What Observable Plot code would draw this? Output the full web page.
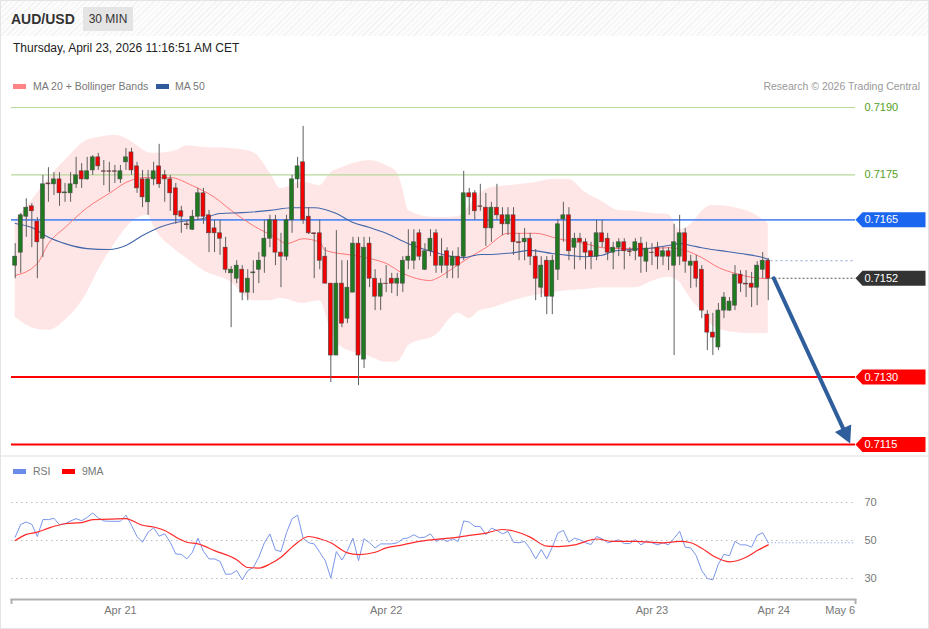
<!DOCTYPE html>
<html><head><meta charset="utf-8">
<script src="https://cdn.jsdelivr.net/npm/d3@7"></script>
<script src="https://cdn.jsdelivr.net/npm/@observablehq/plot@0.6"></script>
<style>
body{margin:0;background:#fff;font-family:"Liberation Sans",Arial,sans-serif;}
#wrap{position:relative;width:929px;height:629px;overflow:hidden;outline:1px solid #e4e4e4;outline-offset:-1px;background:#fff;}
#hdr{position:absolute;left:1px;top:1px;width:927px;height:35px;background:repeating-linear-gradient(135deg,#f2f2f2 0 1px,#fcfcfc 1px 4px);}
.abs{position:absolute;white-space:nowrap;}
#sym{left:11px;top:10px;font-weight:bold;font-size:14px;line-height:18px;color:#333;}
#tf{left:83px;top:7px;width:50px;height:24px;line-height:24px;text-align:center;font-size:12px;color:#333;background:#e4e4e4;}
#date{left:13px;top:41px;font-size:12px;line-height:14px;color:#222;}
.lg{font-size:10.5px;line-height:12px;color:#777;}
.sw{position:absolute;width:13px;height:5px;}
#sep{left:1px;top:455px;width:927px;height:2px;background:#efefef;}
#p1{position:absolute;left:0;top:95px;}
#p2{position:absolute;left:0;top:480px;}
</style></head>
<body>
<div id="wrap">
  <div id="hdr"></div>
  <div class="abs" id="sym">AUD/USD</div>
  <div class="abs" id="tf">30 MIN</div>
  <div class="abs" id="date">Thursday, April 23, 2026 11:16:51 AM CET</div>
  <div class="sw" style="left:13px;top:84px;background:#ff8585"></div>
  <div class="abs lg" style="left:33px;top:80px">MA 20 + Bollinger Bands</div>
  <div class="sw" style="left:156px;top:84px;background:#2f5a9b"></div>
  <div class="abs lg" style="left:175px;top:80px">MA 50</div>
  <div class="abs lg" style="right:9px;top:80px;color:#999">Research © 2026 Trading Central</div>
  <div class="abs" id="sep"></div>
  <div class="sw" style="left:13px;top:469px;background:#6a8ce8"></div>
  <div class="abs lg" style="left:33px;top:465px">RSI</div>
  <div class="sw" style="left:62px;top:469px;background:#ff0000"></div>
  <div class="abs lg" style="left:82px;top:465px">9MA</div>
  <div id="p1"></div>
  <div id="p2"></div>
</div>
<script>
// ---------- DATA ----------
const open = [.71548,.71577,.71657,.71680,.71646,.71608,.71731,.71729,.71740,.71709,
.71709,.71729,.71758,.71740,.71760,.71789,.71758,.71758,.71758,.71740,
.71778,.71800,.71769,.71740,.71689,.71740,.71769,.71749,.71740,.71720,
.71669,.71640,.71628,.71657,.71709,.71660,.71631,.71620,.71588,.71531,
.71519,.71539,.71488,.71531,.71539,.71568,.71608,.71649,.71577,.71568,
.71649,.71740,.71778,.71657,.71620,.71620,.71568,.71508,.71348,.71508,
.71430,.71488,.71597,.71339,.71597,.71519,.71479,.71508,.71519,.71508,
.71508,.71559,.71559,.71620,.71539,.71580,.71620,.71548,.71580,.71548,
.71568,.71568,.71709,.71709,.71680,.71677,.71631,.71677,.71660,.71640,
.71660,.71600,.71600,.71608,.71568,.71499,.71559,.71479,.71539,.71651,
.71660,.71588,.71608,.71600,.71580,.71568,.71620,.71608,.71577,.71588,
.71600,.71580,.71580,.71597,.71557,.71577,.71588,.71568,.71580,.71548,
.71568,.71620,.71548,.71557,.71539,.71439,.71399,.71366,.71448,.71448,
.71459,.71528,.71508,.71508,.71499,.71539,.71559];
const high = [.71597,.71664,.71697,.71686,.71655,.71749,.71766,.71755,.71755,.71731,
.71755,.71789,.71775,.71789,.71793,.71798,.71782,.71778,.71771,.71771,
.71809,.71809,.71778,.71760,.71760,.71778,.71818,.71760,.71749,.71731,
.71680,.71649,.71671,.71720,.71720,.71671,.71649,.71649,.71611,.71546,
.71559,.71548,.71539,.71559,.71577,.71649,.71660,.71660,.71620,.71660,
.71749,.71789,.71858,.71677,.71620,.71649,.71588,.71508,.71626,.71559,
.71559,.71611,.71611,.71611,.71611,.71539,.71519,.71548,.71531,.71531,
.71568,.71628,.71628,.71628,.71597,.71628,.71628,.71608,.71588,.71580,
.71588,.71758,.71720,.71715,.71729,.71709,.71689,.71729,.71677,.71677,
.71677,.71620,.71631,.71620,.71584,.71568,.71568,.71571,.71651,.71689,
.71677,.71620,.71620,.71608,.71600,.71649,.71649,.71620,.71600,.71608,
.71608,.71588,.71608,.71611,.71600,.71597,.71600,.71588,.71588,.71640,
.71660,.71631,.71571,.71571,.71548,.71448,.71442,.71464,.71488,.71477,
.71548,.71537,.71537,.71533,.71557,.71577,.71564];
const low = [.71519,.71531,.71611,.71588,.71519,.71566,.71689,.71704,.71680,.71689,
.71689,.71720,.71720,.71738,.71749,.71760,.71726,.71711,.71731,.71731,
.71760,.71749,.71709,.71677,.71660,.71726,.71720,.71689,.71669,.71640,
.71620,.71628,.71626,.71649,.71640,.71577,.71577,.71571,.71531,.71410,
.71508,.71470,.71470,.71486,.71508,.71531,.71588,.71548,.71499,.71559,
.71620,.71720,.71640,.71617,.71519,.71539,.71508,.71288,.71348,.71410,
.71419,.71488,.71281,.71319,.71499,.71448,.71448,.71488,.71486,.71479,
.71488,.71539,.71539,.71559,.71537,.71568,.71531,.71531,.71519,.71519,
.71519,.71559,.71660,.71649,.71669,.71591,.71600,.71649,.71615,.71615,
.71571,.71559,.71559,.71548,.71470,.71477,.71439,.71439,.71515,.71600,
.71559,.71539,.71559,.71539,.71539,.71559,.71588,.71559,.71539,.71568,
.71539,.71568,.71559,.71531,.71533,.71548,.71539,.71548,.71537,.71348,
.71548,.71531,.71497,.71499,.71430,.71359,.71348,.71359,.71430,.71446,
.71448,.71488,.71477,.71455,.71459,.71519,.71470];
const close = [.71568,.71660,.71677,.71669,.71600,.71729,.71729,.71740,.71709,.71711,
.71729,.71749,.71740,.71758,.71789,.71769,.71757,.71757,.71757,.71758,
.71789,.71760,.71720,.71700,.71740,.71758,.71729,.71740,.71709,.71660,
.71657,.71638,.71657,.71709,.71657,.71620,.71620,.71608,.71539,.71539,
.71548,.71488,.71519,.71533,.71559,.71608,.71649,.71577,.71568,.71649,
.71740,.71769,.71649,.71620,.71618,.71559,.71508,.71348,.71508,.71419,
.71499,.71597,.71348,.71588,.71519,.71479,.71508,.71507,.71508,.71519,
.71559,.71568,.71600,.71568,.71580,.71608,.71548,.71568,.71548,.71568,
.71548,.71709,.71700,.71669,.71679,.71631,.71677,.71660,.71640,.71660,
.71600,.71598,.71608,.71568,.71519,.71548,.71479,.71559,.71640,.71660,
.71580,.71608,.71600,.71577,.71568,.71620,.71600,.71577,.71588,.71600,
.71580,.71578,.71600,.71568,.71586,.71576,.71568,.71580,.71568,.71600,
.71620,.71557,.71557,.71519,.71448,.71399,.71388,.71448,.71477,.71468,
.71528,.71508,.71506,.71499,.71548,.71559,.71519];

const bandIdx = [0,3,6,9,13,15,18,21,24,25,29,31,34,39,43,46,48,52,55,57,59,62,64,67,69,70,71,76,80,82,84,86,89,94,97,100,103,106,109,112,115,118,120,121,123,124,126,130,133,136];
const bandUpper = [.71649,.71693,.71742,.71782,.71827,.71833,.71838,.71824,.71800,.71798,.71804,.71815,.71811,.71809,.71800,.71755,.71720,.71735,.71726,.71755,.71766,.71778,.71782,.71771,.71755,.71720,.71671,.71655,.71657,.71680,.71709,.71722,.71726,.71733,.71740,.71740,.71711,.71691,.71671,.71669,.71664,.71662,.71628,.71631,.71653,.71669,.71682,.71677,.71666,.71642];
const bandLower = [.71433,.71410,.71404,.71426,.71488,.71537,.71597,.71644,.71660,.71635,.71582,.71564,.71537,.71511,.71470,.71470,.71475,.71464,.71470,.71404,.71366,.71353,.71346,.71333,.71333,.71348,.71370,.71393,.71442,.71430,.71448,.71453,.71466,.71482,.71488,.71493,.71495,.71499,.71499,.71499,.71513,.71522,.71511,.71493,.71459,.71448,.71413,.71399,.71397,.71397];

const ma20Idx = [0,4,6,9,13,17,20,23,28,32,36,39,43,47,49,52,55,56,61,64,67,70,75,76,79,82,85,89,94,98,103,106,110,114,118,121,124,127,130,133,136];
const ma20Val = [.71526,.71553,.71597,.71633,.71677,.71709,.71733,.71744,.71744,.71726,.71700,.71671,.71637,.71611,.71597,.71608,.71600,.71582,.71571,.71564,.71553,.71531,.71515,.71519,.71542,.71566,.71588,.71620,.71620,.71608,.71597,.71588,.71586,.71586,.71588,.71582,.71566,.71544,.71531,.71522,.71519];

const ma50Idx = [0,3,6,9,13,17,20,23,26,29,34,37,41,46,50,54,58,61,64,67,71,76,79,81,84,86,90,93,97,100,103,106,108,111,114,118,120,122,124,127,131,135,136];
const ma50Val = [.71642,.71633,.71611,.71597,.71586,.71584,.71593,.71615,.71633,.71644,.71653,.71664,.71666,.71671,.71677,.71677,.71664,.71644,.71633,.71620,.71597,.71577,.71568,.71566,.71573,.71573,.71577,.71582,.71575,.71571,.71568,.71571,.71580,.71584,.71586,.71593,.71597,.71593,.71588,.71582,.71575,.71566,.71562];
const ma50Projection = 0.71559;

const greenLevels = [0.7190, 0.7175];
const blueLevels = [0.7165];
const redLevels = [0.7130, 0.7115];
const lastPrice = 0.7152;
const tagValues = [0.7165, 0.7152, 0.7130, 0.7115];
const tagKinds = ["resistance", "last", "support", "support"];
const arrowFrom = [137, 0.7152];
const arrowTo = [150.8, 0.71152];

const rsi = [51.8,58.5,59.7,58.5,52.1,61.0,61.0,61.7,58.3,58.8,
60.3,61.5,60.4,62.2,64.5,61.9,60.3,60.1,60.1,60.1,
63.3,58.0,52.1,49.1,54.4,56.7,52.3,53.5,49.1,42.9,
42.7,40.3,43.8,51.2,44.3,40.3,40.3,39.0,32.3,32.3,
34.2,29.3,34.1,35.8,41.2,48.8,53.4,45.0,44.2,54.1,
61.5,63.3,51.2,48.8,48.2,43.8,39.4,30.2,44.2,39.7,
44.7,51.2,39.4,50.9,48.8,46.1,48.2,48.2,48.2,48.8,
50.9,51.4,53.0,51.4,51.8,53.5,49.5,50.9,49.5,50.9,
49.5,60.3,59.7,57.4,57.4,53.0,56.5,55.3,53.5,54.8,
49.1,48.8,49.5,45.6,40.3,45.2,40.3,46.5,53.9,55.3,
49.1,51.2,50.4,48.8,47.9,52.1,50.9,48.8,49.5,50.4,
48.4,48.4,50.5,47.7,49.5,48.8,47.7,48.8,47.7,51.2,
54.8,46.5,46.1,42.0,34.1,30.0,29.3,37.6,42.7,42.0,
49.6,47.7,47.7,46.5,52.7,54.1,48.8];
const ma9Idx = [0,2,4,6,9,12,14,17,20,21,23,25,27,29,31,33,36,40,42,44,46,48,50,53,55,57,60,62,65,67,70,73,77,79,82,85,88,90,93,96,98,101,105,108,112,117,120,122,124,126,129,132,134,136];
const ma9Val = [50,53.2,54.4,56.5,58.8,59.4,61,61.2,61.5,60.6,58,57.1,55.3,51.8,49.1,48.2,44.7,39.9,35.8,35.5,37.6,41.2,46.5,52.1,50.9,48.8,43.5,42.6,43.8,46.1,47.7,49.5,50.9,51.4,52.7,53.9,55.8,55,51.8,47,46.8,47.7,50.8,49.5,49.5,48.8,49.5,48.8,45.9,42,38.8,41.2,44.7,47.7];
const rsiLevels = [70, 50, 30];

const tickIdx = [19, 67, 115, 137, 149];
const tickLabels = ["Apr 21", "Apr 22", "Apr 23", "Apr 24", "May 6"];

// ---------- BUILD ----------
const FONT = "Liberation Sans, Arial, sans-serif";
const n = open.length;
const xMin = -0.67, xMax = 151.76;
const W = 929, H1 = 360, mT = 12, mB = 11, mL = 11, mR = 74;
const candles = open.map((o, i) => ({i, o, h: high[i], l: low[i], c: close[i]}));
const band = bandIdx.map((i, k) => ({i, up: bandUpper[k], lo: bandLower[k]}));
const ma20 = ma20Idx.map((i, k) => ({i, v: ma20Val[k]}));
const ma50 = ma50Idx.map((i, k) => ({i, v: ma50Val[k]}));
const tagColor = {resistance: "#1b66ee", last: "#333333", support: "#ff0000"};
const tags = tagValues.map((v, k) => ({v, kind: tagKinds[k]}));
const arrow = [{x1: arrowFrom[0], y1: arrowFrom[1], x2: arrowTo[0], y2: arrowTo[1]}];

const kx = (W - mL - mR) / (xMax - xMin);
const ky = (H1 - mT - mB) / (0.7190 - 0.7115);
const ang = -Math.atan2((arrowTo[0] - arrowFrom[0]) * kx, (arrowFrom[1] - arrowTo[1]) * ky) * 180 / Math.PI;

const tagSymbol = {draw(ctx) {ctx.moveTo(0, 0); ctx.lineTo(7, -7.5); ctx.lineTo(70, -7.5); ctx.lineTo(70, 7.5); ctx.lineTo(7, 7.5); ctx.closePath();}};
const headSymbol = {draw(ctx) {ctx.moveTo(0, 0); ctx.lineTo(-9, -17); ctx.lineTo(9, -17); ctx.closePath();}};

const p1 = Plot.plot({
  width: W, height: H1, marginTop: mT, marginBottom: mB, marginLeft: mL, marginRight: mR,
  x: {domain: [xMin, xMax], axis: null, label: null},
  y: {domain: [0.7115, 0.7190], axis: null, label: null},
  style: {background: "transparent", overflow: "visible", fontFamily: FONT},
  marks: [
    Plot.areaY(band, {x: "i", y1: "lo", y2: "up", fill: "#ff1a1a", fillOpacity: 0.11, curve: "monotone-x"}),
    Plot.ruleY(greenLevels, {stroke: "#b5d99a", strokeWidth: 1.2}),
    Plot.ruleY(blueLevels, {stroke: "#5a8df4", strokeWidth: 1.6}),
    Plot.ruleY(redLevels, {stroke: "#ff0000", strokeWidth: 2}),
    Plot.lineY(ma20, {x: "i", y: "v", stroke: "#ff7676", strokeWidth: 1, curve: "monotone-x"}),
    Plot.lineY(ma50, {x: "i", y: "v", stroke: "#4267aa", strokeWidth: 1.1, curve: "monotone-x"}),
    Plot.ruleY([ma50Projection], {x1: n - 0.5, x2: xMax, stroke: "#8ea5d6", strokeDasharray: "2,3"}),
    Plot.ruleY([lastPrice], {x1: n - 0.5, x2: xMax, stroke: "#555", strokeDasharray: "2,2"}),
    Plot.ruleX(candles, {x: "i", y1: "l", y2: "h", stroke: "#5e5e5e", strokeWidth: 1}),
    Plot.rect(candles, {x1: d => d.i - 0.36, x2: d => d.i + 0.36, y1: "o", y2: "c",
      fill: d => d.c > d.o ? "#1f7a1f" : "#f20000", stroke: "#4a4a4a", strokeWidth: 0.6}),
    Plot.arrow(arrow, {x1: "x1", y1: "y1", x2: "x2", y2: "y2", stroke: "#2f5e9c", strokeWidth: 4, headLength: 0, insetEnd: 13}),
    Plot.dot(arrow, {x: "x2", y: "y2", symbol: headSymbol, rotate: ang, fill: "#2f5e9c", stroke: "none"}),
    Plot.dot(tags, {x: () => xMax, y: "v", symbol: tagSymbol, fill: d => tagColor[d.kind], stroke: "none"}),
    Plot.text(tags, {x: () => xMax, y: "v", text: d => d.v.toFixed(4), dx: 9, textAnchor: "start", fill: "white", fontSize: 11, fontFamily: FONT}),
    Plot.text(greenLevels, {x: () => xMax, y: d => d, text: d => d.toFixed(4), dx: 9, textAnchor: "start", fill: "#52a01e", fontSize: 11, fontFamily: FONT})
  ]
});
document.getElementById("p1").appendChild(p1);

const rsiData = rsi.map((v, i) => ({i, v}));
const ma9 = ma9Idx.map((i, k) => ({i, v: ma9Val[k]}));
const p2 = Plot.plot({
  width: W, height: 140, marginTop: 22, marginBottom: 21, marginLeft: mL, marginRight: mR,
  x: {domain: [xMin, xMax], label: null},
  y: {domain: [30, 70], range: [98, 22], axis: null, label: null},
  style: {background: "transparent", overflow: "visible", fontFamily: FONT},
  marks: [
    Plot.ruleY(rsiLevels, {stroke: "#bdbdbd", strokeDasharray: "1.5,3.5"}),
    Plot.text(rsiLevels, {x: () => xMax, y: d => d, text: d => String(d), dx: 9, textAnchor: "start", fill: "#777", fontSize: 11, fontFamily: FONT}),
    Plot.lineY(rsiData, {x: "i", y: "v", stroke: "#7b96ea", strokeWidth: 1}),
    Plot.ruleY([rsi[n - 1]], {x1: n - 1, x2: xMax, stroke: "#9fb2ee", strokeDasharray: "1.5,2"}),
    Plot.lineY(ma9, {x: "i", y: "v", stroke: "#ff2a2a", strokeWidth: 1.2, curve: "monotone-x"}),
    Plot.frame({anchor: "bottom", stroke: "#b0b0b0", strokeWidth: 2}),
    Plot.axisX({ticks: [xMin, xMax], tickFormat: () => "", tickSize: 5, stroke: "#b0b0b0", strokeWidth: 2, label: null}),
    Plot.axisX({ticks: tickIdx, tickFormat: d => tickLabels[tickIdx.indexOf(d)], tickSize: 0, tickPadding: 7, fontSize: 11, fill: "#777", fontFamily: FONT, label: null})
  ]
});
document.getElementById("p2").appendChild(p2);
</script>
</body></html>
